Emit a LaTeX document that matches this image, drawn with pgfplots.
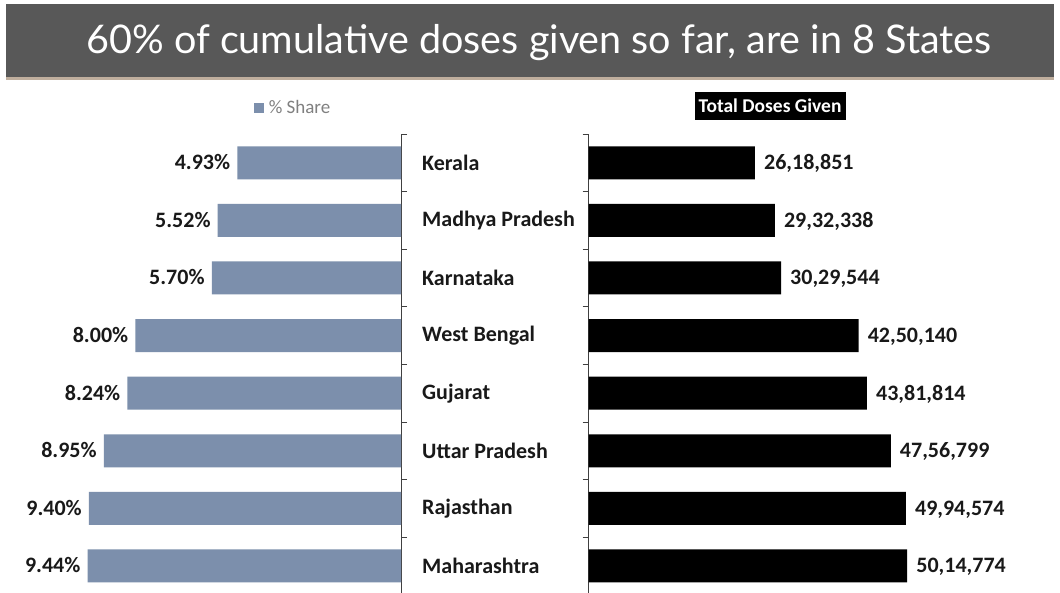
\documentclass[border=0pt]{standalone}
\usepackage{pgfplots}
\pgfplotsset{compat=1.18}
\usepackage{fontspec}
\setmainfont{Carlito}
\newfontfamily\titlefont{Lato}
\definecolor{barblue}{HTML}{7C8FAC}
\definecolor{titlegray}{HTML}{585858}
\definecolor{axisgray}{HTML}{404040}
\begin{document}
\begin{tikzpicture}[x=1pt,y=1pt]
\useasboundingbox (0,0) rectangle (1060,592);
\fill[white] (0,0) rectangle (1060,592);
\fill[brown!60!black, opacity=0.45] (6,512) rectangle (1054,516);
\fill[titlegray] (6,515) rectangle (1054,588);
\node[text=white, anchor=base, font=\titlefont\fontsize{39.5}{39.5}\selectfont] at (539,538) {60\% of cumulative doses given so far, are in 8 States};

\begin{axis}[
  at={(401pt,458pt)}, anchor=north east,
  scale only axis, width=398.4pt, height=460.8pt,
  xmin=-12, xmax=0, ymin=0.5, ymax=8.5,
  axis x line=none, axis y line*=right,
  axis line style={draw=axisgray, line width=0.7pt, -},
  ytick={0.5,1.5,...,8.5}, yticklabels={},
  major tick length=6pt, tick align=outside,
  tick style={draw=axisgray, line width=0.7pt},
  extra y ticks={1,...,8},
  extra y tick labels={Maharashtra,Rajasthan,Uttar Pradesh,Gujarat,West Bengal,Karnataka,Madhya Pradesh,Kerala},
  extra y tick style={major tick length=0pt, yticklabel style={anchor=west, inner sep=0pt, xshift=21pt, font=\bfseries\fontsize{22}{22}\selectfont, text=black!90}},
  legend style={at={(0.7327,1.0575)}, anchor=center, draw=none, fill=none, font=\fontsize{19}{19}\selectfont, text=gray, nodes={inner xsep=5pt}},
  legend image code/.code={\fill[barblue] (0pt,-5pt) rectangle (10pt,5pt);},
]
\addplot[xbar, bar width=33pt, fill=barblue, draw=none,
  nodes near coords, point meta=explicit symbolic,
  nodes near coords style={anchor=base east, inner sep=0pt, xshift=-7pt, yshift=-7pt, font=\bfseries\fontsize{22}{22}\selectfont, text=black!90}]
  coordinates {
  (-9.44,1) [9.44\%]
  (-9.40,2) [9.40\%]
  (-8.95,3) [8.95\%]
  (-8.24,4) [8.24\%]
  (-8.00,5) [8.00\%]
  (-5.70,6) [5.70\%]
  (-5.52,7) [5.52\%]
  (-4.93,8) [4.93\%]
  };
\addlegendentry{\% Share}
\end{axis}

\begin{axis}[
  at={(588.5pt,458pt)}, anchor=north west,
  scale only axis, width=463.9pt, height=460.8pt,
  xmin=0, xmax=7300000, ymin=0.5, ymax=8.5,
  axis x line=none, axis y line*=left,
  axis line style={draw=axisgray, line width=0.7pt, -},
  ytick={0.5,1.5,...,8.5}, yticklabels={},
  major tick length=6pt, tick align=outside,
  ytick style={draw=axisgray, line width=0.7pt},
  legend style={at={(0.3913,1.0608)}, anchor=center, draw=none, fill=black, text=white, font=\bfseries\fontsize{19.5}{19.5}\selectfont, inner sep=0pt, nodes={inner xsep=4pt, inner ysep=6pt}},
  legend image code/.code={},
]
\addplot[xbar, bar width=33pt, fill=black, draw=none,
  nodes near coords, point meta=explicit symbolic,
  nodes near coords style={anchor=base west, inner sep=0pt, xshift=9pt, yshift=-7pt, font=\bfseries\fontsize{22}{22}\selectfont, text=black!90}]
  coordinates {
  (5014774,1) [50{,}14{,}774]
  (4994574,2) [49{,}94{,}574]
  (4756799,3) [47{,}56{,}799]
  (4381814,4) [43{,}81{,}814]
  (4250140,5) [42{,}50{,}140]
  (3029544,6) [30{,}29{,}544]
  (2932338,7) [29{,}32{,}338]
  (2618851,8) [26{,}18{,}851]
  };
\addlegendentry{Total Doses Given}
\end{axis}
\end{tikzpicture}
\end{document}
